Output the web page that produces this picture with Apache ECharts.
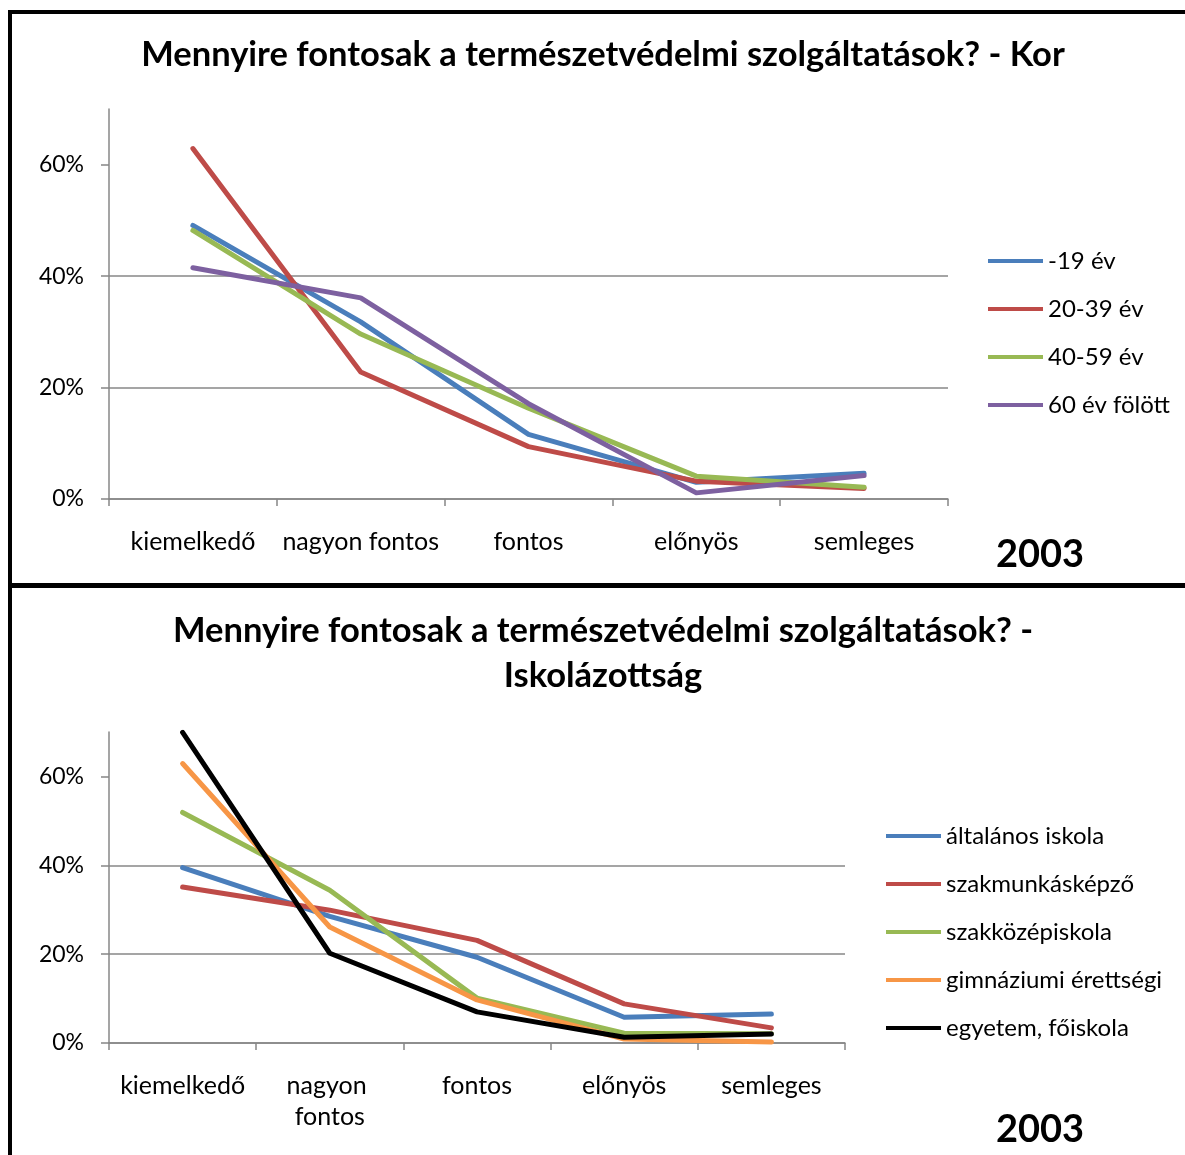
<!DOCTYPE html>
<html>
<head>
<meta charset="utf-8">
<script src="https://cdn.jsdelivr.net/npm/echarts@6/dist/echarts.min.js"></script>
<style>
  html, body { margin: 0; padding: 0; background: #fff; }
  #chart { position: absolute; left: 0; top: 0; width: 1185px; height: 1155px; }
  .frame { position: absolute; background: #000; }
</style>
</head>
<body>
<div id="chart"></div>
<!-- keret -->
<div class="frame" style="left:8px;top:10px;width:4px;height:1145px"></div>
<div class="frame" style="left:8px;top:10px;width:1177px;height:4px"></div>
<div class="frame" style="left:8px;top:583px;width:1177px;height:5px"></div>
<script>
// adatok
const categories = ['kiemelkedő', 'nagyon fontos', 'fontos', 'előnyös', 'semleges'];
const yTicks = [0, 20, 40, 60];

const ageNames = ['-19 év', '20-39 év', '40-59 év', '60 év fölött'];
const age19 = [49.1, 31.8, 11.6, 3.0, 4.6];
const age20to39 = [62.9, 22.8, 9.4, 3.2, 1.9];
const age40to59 = [48.2, 29.6, 16.3, 4.1, 2.1];
const age60 = [41.5, 36.1, 17.1, 1.1, 4.2];

const eduNames = ['általános iskola', 'szakmunkásképző', 'szakközépiskola', 'gimnáziumi érettségi', 'egyetem, főiskola'];
const altalanos = [39.5, 28.5, 19.3, 5.8, 6.5];
const szakmunkas = [35.1, 29.9, 23.1, 8.8, 3.4];
const szakkozep = [51.9, 34.4, 10.1, 2.2, 2.1];
const gimnazium = [62.9, 26.1, 9.7, 0.9, 0.2];
const egyetem = [69.9, 20.2, 7.0, 1.3, 2.0];

const FONT = 'Lato';
const GRAY = '#878787';

const chart = echarts.init(document.getElementById('chart'));

const xAxisCfg = (gridIndex, labelWidth) => ({
  type: 'category',
  gridIndex,
  data: categories,
  boundaryGap: true,
  axisLine: { lineStyle: { color: GRAY, width: 1.5 } },
  axisTick: { show: true, interval: 0, length: 7, lineStyle: { color: GRAY, width: 1.5 } },
  axisLabel: {
    interval: 0,
    margin: 27,
    color: '#000',
    fontFamily: FONT,
    fontSize: 25,
    lineHeight: 31,
    width: labelWidth,
    overflow: 'break'
  }
});

const yAxisCfg = (gridIndex) => ({
  type: 'value',
  gridIndex,
  min: 0,
  max: 70,
  interval: 20,
  axisLine: { show: true, lineStyle: { color: GRAY, width: 1.5 } },
  axisTick: { show: true, inside: false, length: 8, customValues: yTicks, lineStyle: { color: GRAY, width: 1.5 } },
  axisLabel: {
    margin: 25,
    color: '#000',
    fontFamily: FONT,
    fontSize: 23,
    showMaxLabel: false,
    formatter: '{value}%'
  },
  splitLine: { show: true, showMaxLine: false, lineStyle: { color: GRAY, width: 1.5 } }
});

const lineSeries = (name, data, color, idx) => ({
  name,
  type: 'line',
  xAxisIndex: idx,
  yAxisIndex: idx,
  data,
  symbol: 'none',
  smooth: false,
  color,
  lineStyle: { color, width: 5, cap: 'round', join: 'round' }
});

const ageColors = ['#4A7EBB', '#BE4B48', '#98B954', '#7D60A0'];
const eduColors = ['#4A7EBB', '#BE4B48', '#98B954', '#F79646', '#000000'];
const ageData = [age19, age20to39, age40to59, age60];
const eduData = [altalanos, szakmunkas, szakkozep, gimnazium, egyetem];

const legendCfg = (names, left, top) => ({
  data: names,
  orient: 'vertical',
  left,
  top,
  padding: 0,
  icon: 'rect',
  itemWidth: 55,
  itemHeight: 4,
  itemGap: 24,
  selectedMode: false,
  textStyle: { color: '#000', fontFamily: FONT, fontSize: 24, lineHeight: 24 }
});

const titleStyle = (text, x, y) => ({
  type: 'text',
  x,
  y,
  style: { text, font: 'bold 34.5px ' + FONT, fill: '#000', align: 'center', verticalAlign: 'middle' }
});

const yearStyle = (x, y) => ({
  type: 'text',
  x,
  y,
  style: { text: '2003', font: 'bold 38px ' + FONT, fill: '#000', align: 'center', verticalAlign: 'middle' }
});

const option = {
  animation: false,
  grid: [
    { left: 109, top: 109, width: 839, height: 390 },
    { left: 109, top: 732, width: 736, height: 311 }
  ],
  xAxis: [xAxisCfg(0, 165), xAxisCfg(1, 140)],
  yAxis: [yAxisCfg(0), yAxisCfg(1)],
  legend: [legendCfg(ageNames, 988, 249), legendCfg(eduNames, 886, 824)],
  graphic: [
    titleStyle('Mennyire fontosak a természetvédelmi szolgáltatások? - Kor', 603, 55),
    titleStyle('Mennyire fontosak a természetvédelmi szolgáltatások? -', 603, 631),
    titleStyle('Iskolázottság', 603, 676),
    yearStyle(1040, 555),
    yearStyle(1040, 1130)
  ],
  series: [
    ...ageNames.map((n, i) => lineSeries(n, ageData[i], ageColors[i], 0)),
    ...eduNames.map((n, i) => lineSeries(n, eduData[i], eduColors[i], 1))
  ]
};

chart.setOption(option);
window.addEventListener('resize', () => chart.resize());
</script>
</body>
</html>
